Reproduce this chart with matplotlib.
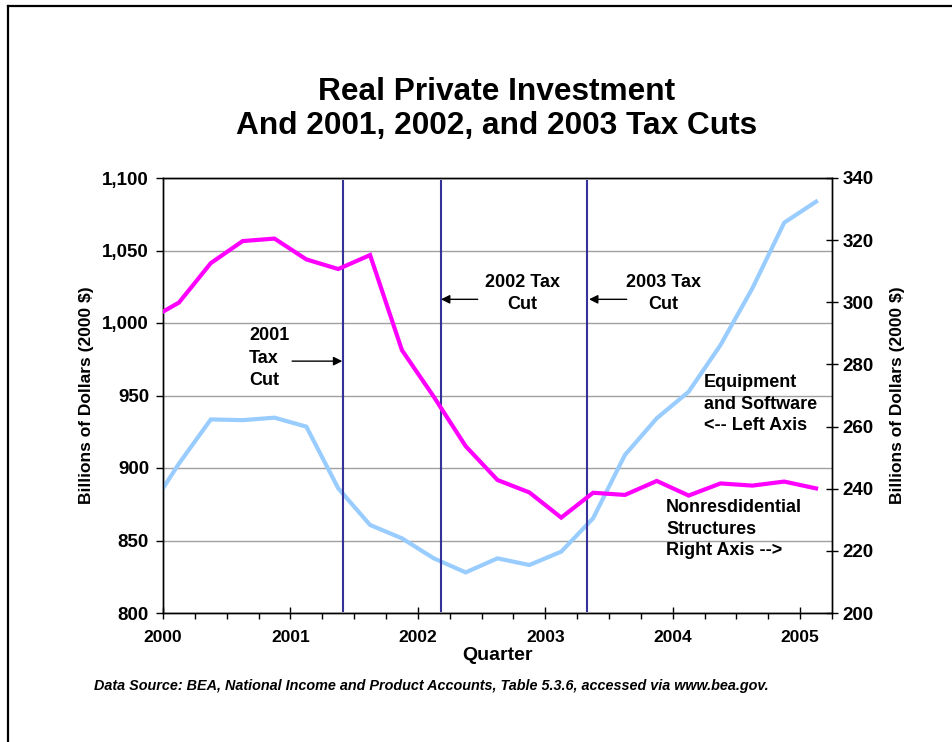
import matplotlib
matplotlib.use("Agg")
import matplotlib.pyplot as plt
from matplotlib.lines import Line2D
from matplotlib.ticker import MultipleLocator, FuncFormatter

plt.rcParams['font.family'] = ['Liberation Sans', 'DejaVu Sans']
plt.rcParams['font.weight'] = 'bold'

# quarterly data, 1999Q4 .. 2005Q1 (first point falls left of the axis and is clipped)
quarters = ["1999Q4",
            "2000Q1", "2000Q2", "2000Q3", "2000Q4",
            "2001Q1", "2001Q2", "2001Q3", "2001Q4",
            "2002Q1", "2002Q2", "2002Q3", "2002Q4",
            "2003Q1", "2003Q2", "2003Q3", "2003Q4",
            "2004Q1", "2004Q2", "2004Q3", "2004Q4",
            "2005Q1"]
# equipment and software, billions of 2000 $ (left axis)
equipment = [869, 903, 933.5, 933, 934.7, 928.5, 886, 860.7, 851.5, 837.7, 828,
             837.7, 833.1, 842.3, 865.3, 909, 934.3, 952.6, 984.8, 1023.9, 1069.2, 1083.7]
# nonresidential structures, billions of 2000 $ (right axis)
structures = [294.1, 299.9, 312.6, 319.7, 320.5, 313.8, 310.7, 315.2, 284.6, 269.6, 253.7,
              242.8, 238.8, 230.7, 238.7, 238.0, 242.5, 237.8, 241.7, 241.0, 242.3, 240.1]
# tax cut dates as fractional years
tax_cuts = [2001.41, 2002.18, 2003.33]
year_labels = ["2000", "2001", "2002", "2003", "2004", "2005"]


def mid_quarter(q):
    y, n = q.split("Q")
    return int(y) + (int(n) - 0.5) / 4.0


x = [mid_quarter(q) for q in quarters]

fig = plt.figure(figsize=(9.52, 7.42), dpi=100)
ax = fig.add_axes([163 / 952, 1 - 613 / 742, 669 / 952, 435 / 742])
ax2 = ax.twinx()

ax.plot(x, equipment, color='#99CCFF', lw=3, solid_joinstyle='miter', zorder=3)
ax2.plot(x, structures, color='#FF00FF', lw=3, solid_joinstyle='miter', zorder=3)
for t in tax_cuts:
    ax.axvline(t, ymin=0.004, ymax=0.994, color='#333399', lw=1.5, zorder=4)

ax.set_xlim(2000, 2005.25)
ax.set_ylim(800, 1100)
ax2.set_ylim(200, 340)

ax.yaxis.set_major_locator(MultipleLocator(50))
ax.yaxis.set_major_formatter(FuncFormatter(lambda v, p: f"{int(v):,}"))
ax2.yaxis.set_major_locator(MultipleLocator(20))
ax.set_xticks([int(y) for y in year_labels])
ax.set_xticklabels(year_labels)
ax.xaxis.set_minor_locator(MultipleLocator(0.25))

ax.grid(axis='y', color='#a0a0a0', lw=1)
ax.set_axisbelow(True)
for a in (ax, ax2):
    for s in a.spines.values():
        s.set_color('black')
        s.set_linewidth(1)

ax.tick_params(axis='y', direction='out', length=5, width=1, labelsize=13.5, pad=5)
ax2.tick_params(axis='y', direction='inout', length=9, width=1, labelsize=13.5, pad=3)
ax.tick_params(axis='x', which='major', direction='inout', length=8, width=1, labelsize=12.5, pad=8)
ax.tick_params(axis='x', which='minor', direction='out', length=4, width=1)

ax.set_ylabel("Billions of Dollars (2000 $)", fontsize=12.5, fontweight='bold', labelpad=6)
ax2.set_ylabel("Billions of Dollars (2000 $)", fontsize=12.5, fontweight='bold', labelpad=12)
ax.set_xlabel("Quarter", fontsize=14, fontweight='bold', labelpad=2)

tf = dict(fontsize=13, fontweight='bold', transform=ax.transAxes)
ax.text(0.1286, 0.586, "2001\nTax\nCut", ha='left', va='center', linespacing=1.42, **tf)
ax.text(0.5377, 0.734, "2002 Tax\nCut", ha='center', va='center', linespacing=1.4, **tf)
ax.text(0.7474, 0.734, "2003 Tax\nCut", ha='center', va='center', linespacing=1.4, **tf)
ax.text(0.809, 0.4798, "Equipment\nand Software\n<-- Left Axis", ha='left', va='center',
        linespacing=1.35, zorder=5, **tf)
ax.text(0.7519, 0.1924, "Nonresdidential\nStructures\nRight Axis -->", ha='left', va='center',
        linespacing=1.35, zorder=5, **tf)

arrow = dict(arrowstyle='-|>', color='black', lw=1, mutation_scale=13, shrinkA=0, shrinkB=0)
for x0, x1, yy in [(0.193, 0.268, 0.579), (0.4704, 0.4155, 0.7211), (0.6931, 0.6368, 0.7211)]:
    ax.annotate("", xy=(x1, yy), xytext=(x0, yy), xycoords='axes fraction',
                textcoords='axes fraction', arrowprops=arrow, zorder=6)

fig.text(0.522, 0.853, "Real Private Investment\nAnd 2001, 2002, and 2003 Tax Cuts",
         ha='center', va='center', fontsize=22.8, fontweight='bold', linespacing=1.18)
fig.text(94 / 952, 1 - 686 / 742,
         "Data Source: BEA, National Income and Product Accounts, Table 5.3.6, accessed via www.bea.gov.",
         ha='left', va='center', fontsize=10.4, fontweight='bold', style='italic')

# outer frame (top and left edges visible)
fig.add_artist(Line2D([7.5 / 952, 7.5 / 952], [0, 1 - 5.5 / 742], color='black', lw=1.6,
                      transform=fig.transFigure))
fig.add_artist(Line2D([7.5 / 952, 1], [1 - 5.5 / 742, 1 - 5.5 / 742], color='black', lw=1.6,
                      transform=fig.transFigure))

fig.savefig("out.png", dpi=100)
